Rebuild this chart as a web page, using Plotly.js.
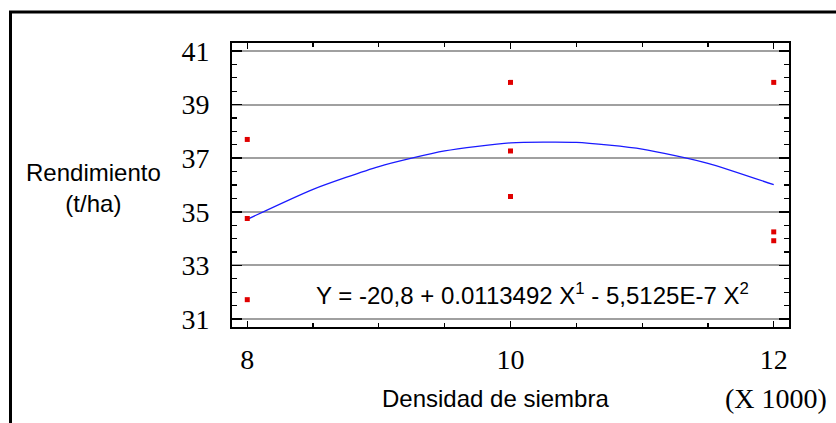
<!DOCTYPE html>
<html>
<head>
<meta charset="utf-8">
<script src="https://cdn.plot.ly/plotly-3.0.1.min.js"></script>
<style>
html,body{margin:0;padding:0;background:#fff;}
#chart{width:836px;height:423px;}
</style>
</head>
<body>
<div id="chart"></div>
<script>
// Observed points: Densidad de siembra (x 1000) vs Rendimiento (t/ha)
var pointX = [8, 8, 8, 10, 10, 10, 12, 12, 12];
var pointY = [37.7, 34.75, 31.72, 39.83, 37.27, 35.57, 39.83, 34.25, 33.92];

// Fitted curve
var curveX = [8, 8.5, 9, 9.5, 10, 10.5, 11, 11.5, 12];
var curveY = [34.72, 35.84, 36.69, 37.27, 37.57, 37.59, 37.34, 36.81, 36.01];

var yTicks = [31, 33, 35, 37, 39, 41];
var xTicks = [8, 10, 12];
var xTickLabels = ['8', '10', '12'];

var equationText = 'Y = -20,8 + 0.0113492 X<sup>1</sup> - 5,5125E-7 X<sup>2</sup>';
var xTitle = 'Densidad de siembra';
var xUnit = '(X 1000)';
var yTitle = 'Rendimiento<br>(t/ha)';

var serif = '"Liberation Serif", "Times New Roman", serif';
var sans = '"Liberation Sans", Arial, sans-serif';

var traces = [
  {
    x: curveX, y: curveY, type: 'scatter', mode: 'lines',
    line: {color: '#1a1aff', width: 1.3, shape: 'spline', smoothing: 0.6},
    hoverinfo: 'skip', showlegend: false
  },
  {
    x: pointX, y: pointY, type: 'scatter', mode: 'markers',
    marker: {symbol: 'square', size: 5, color: '#e00000', line: {width: 0}},
    showlegend: false
  }
];

var axisCommon = {
  showline: true, linecolor: '#000', linewidth: 2, mirror: 'ticks',
  ticks: 'inside', tickcolor: '#000', tickwidth: 1.5,
  zeroline: false, fixedrange: true
};

var layout = {
  width: 836, height: 423,
  margin: {l: 232, r: 47, t: 43, b: 96},
  paper_bgcolor: '#fff', plot_bgcolor: '#fff',
  showlegend: false,
  xaxis: Object.assign({}, axisCommon, {
    range: [7.884, 12.116],
    tickvals: xTicks, ticktext: xTickLabels,
    ticklen: 6,
    showgrid: false,
    minor: {dtick: 0.5, tick0: 8, ticks: 'inside', ticklen: 4, tickcolor: '#000', tickwidth: 1.2, showgrid: false},
    tickfont: {family: serif, size: 28, color: '#000'},
    ticklabelstandoff: 6
  }),
  yaxis: Object.assign({}, axisCommon, {
    range: [30.7, 41.3],
    tickvals: yTicks,
    ticklen: 10,
    showgrid: true, gridcolor: '#a0a0a0', gridwidth: 2,
    minor: {dtick: 0.5, tick0: 31, ticks: 'inside', ticklen: 5, tickcolor: '#000', tickwidth: 1.2, showgrid: false},
    tickfont: {family: serif, size: 28, color: '#000'},
    ticklabelstandoff: 15
  }),
  annotations: [
    {text: equationText, xref: 'paper', yref: 'paper', x: (532 - 232) / 557, y: (327 - 294) / 284,
     xanchor: 'center', yanchor: 'middle', showarrow: false,
     font: {family: sans, size: 24, color: '#000'}},
    {text: xTitle, xref: 'paper', yref: 'paper', x: (495 - 232) / 557, y: (327 - 398) / 284,
     xanchor: 'center', yanchor: 'middle', showarrow: false,
     font: {family: sans, size: 24, color: '#000'}},
    {text: xUnit, xref: 'paper', yref: 'paper', x: (776 - 232) / 557, y: (327 - 398) / 284,
     xanchor: 'center', yanchor: 'middle', showarrow: false,
     font: {family: serif, size: 28, color: '#000'}},
    {text: yTitle, xref: 'paper', yref: 'paper', x: (93 - 232) / 557, y: (327 - 188) / 284,
     xanchor: 'center', yanchor: 'middle', align: 'center', showarrow: false,
     font: {family: sans, size: 24, color: '#000'}}
  ],
  shapes: [
    {type: 'path', xref: 'paper', yref: 'paper',
     path: 'M ' + ((10.5 - 232) / 557) + ' ' + ((327 - 430) / 284) +
           ' L ' + ((10.5 - 232) / 557) + ' ' + ((327 - 12) / 284) +
           ' L ' + ((845 - 232) / 557) + ' ' + ((327 - 12) / 284),
     line: {color: '#000', width: 3}}
  ]
};

Plotly.newPlot('chart', traces, layout, {displayModeBar: false, staticPlot: true});
</script>
</body>
</html>
